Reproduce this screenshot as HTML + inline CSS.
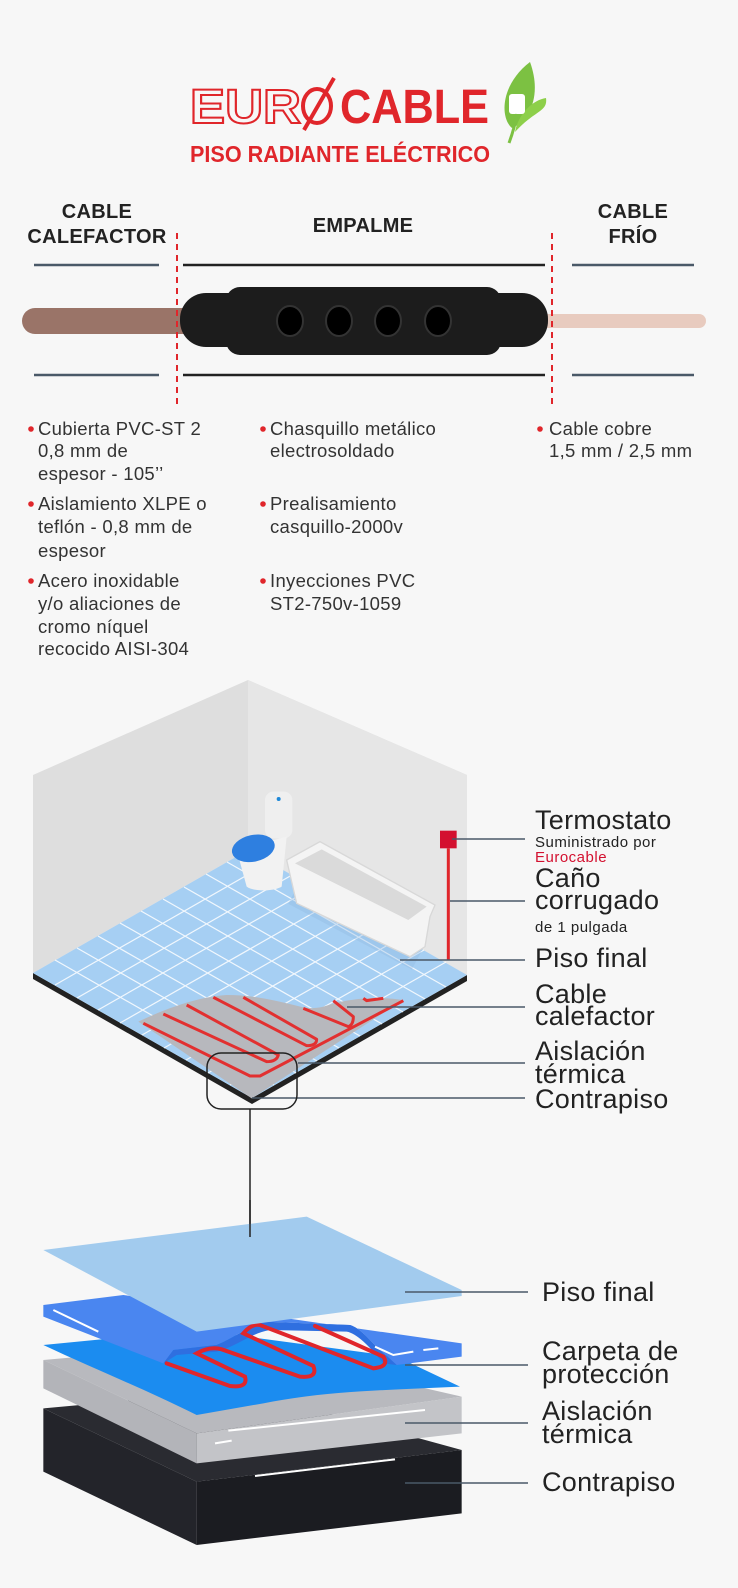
<!DOCTYPE html>
<html><head><meta charset="utf-8"><style>
html,body{margin:0;padding:0;background:#f7f7f7;}
svg{display:block}
text{font-family:"Liberation Sans","DejaVu Sans",sans-serif;}
.b{font-size:18.5px;fill:#333;letter-spacing:0.3px}
.l{font-size:27px;fill:#222;letter-spacing:0.3px}
.s{font-size:15px;fill:#222;letter-spacing:0.5px}
.h{font-size:20px;font-weight:bold;fill:#222;letter-spacing:0.3px}
</style></head><body>
<svg width="738" height="1588" viewBox="0 0 738 1588" xmlns="http://www.w3.org/2000/svg">
<rect width="738" height="1588" fill="#f7f7f7"/>
<!-- logo -->
<text x="190" y="123" font-size="48" font-weight="bold" fill="none" stroke="#e0262b" stroke-width="2" textLength="111" lengthAdjust="spacingAndGlyphs">EUR</text>
<text x="190" y="123" font-size="48" font-weight="bold" fill="none" stroke="#e0262b" stroke-width="0.8" textLength="111" lengthAdjust="spacingAndGlyphs" opacity="0.7">EUR</text>
<ellipse cx="317" cy="106" rx="14" ry="17" fill="none" stroke="#e0262b" stroke-width="4"/>
<line x1="304" y1="130" x2="334" y2="78" stroke="#e0262b" stroke-width="4"/>
<text x="340" y="123" font-size="48" font-weight="bold" fill="#e0262b" textLength="149" lengthAdjust="spacingAndGlyphs">CABLE</text>
<path d="M530 62 C500 85 500 118 512 128 C530 120 542 95 530 62Z" fill="#7cc142"/>
<path d="M515 132 C535 110 548 112 546 98 C532 100 518 115 515 132Z" fill="#8dcf4a"/>
<rect x="509" y="94" width="16" height="20" rx="3" fill="#fff"/>
<path d="M517 114 C515 125 512 135 509 143" stroke="#7cc142" stroke-width="3" fill="none"/>
<text x="190" y="162" font-size="23" font-weight="bold" fill="#e0262b" textLength="300" lengthAdjust="spacingAndGlyphs">PISO RADIANTE ELÉCTRICO</text>
<!-- headers -->
<text class="h" x="97" y="218" text-anchor="middle">CABLE</text>
<text class="h" x="97" y="243" text-anchor="middle">CALEFACTOR</text>
<text class="h" x="363" y="232" text-anchor="middle">EMPALME</text>
<text class="h" x="633" y="218" text-anchor="middle">CABLE</text>
<text class="h" x="633" y="243" text-anchor="middle">FRÍO</text>
<g stroke-width="2.5">
<line x1="34" y1="265" x2="159" y2="265" stroke="#4a5968"/>
<line x1="34" y1="375" x2="159" y2="375" stroke="#4a5968"/>
<line x1="183" y1="265" x2="545" y2="265" stroke="#222"/>
<line x1="183" y1="375" x2="545" y2="375" stroke="#222"/>
<line x1="572" y1="265" x2="694" y2="265" stroke="#4a5968"/>
<line x1="572" y1="375" x2="694" y2="375" stroke="#4a5968"/>
</g>
<line x1="35" y1="321" x2="190" y2="321" stroke="#9a7468" stroke-width="26" stroke-linecap="round"/>
<line x1="545" y1="321" x2="699" y2="321" stroke="#e8cbbf" stroke-width="14" stroke-linecap="round"/>
<rect x="180" y="293" width="368" height="54" rx="26" fill="#1c1c1c"/>
<rect x="226" y="287" width="275" height="68" rx="14" fill="#1c1c1c"/>
<g fill="#000" stroke="#333" stroke-width="2">
<ellipse cx="290" cy="321" rx="13" ry="15"/><ellipse cx="339" cy="321" rx="13" ry="15"/>
<ellipse cx="388" cy="321" rx="13" ry="15"/><ellipse cx="438" cy="321" rx="13" ry="15"/></g>
<g stroke="#e0262b" stroke-width="2" stroke-dasharray="6,5">
<line x1="177" y1="233" x2="177" y2="405"/><line x1="552" y1="233" x2="552" y2="405"/></g>
<!-- bullets -->
<g fill="#e0262b"><circle cx="31" cy="429" r="2.8"/><circle cx="31" cy="504" r="2.8"/><circle cx="31" cy="581" r="2.8"/>
<circle cx="263" cy="429" r="2.8"/><circle cx="263" cy="504" r="2.8"/><circle cx="263" cy="581" r="2.8"/><circle cx="540" cy="429" r="2.8"/></g>
<text class="b"><tspan x="38" y="435">Cubierta PVC-ST 2</tspan><tspan x="38" y="457">0,8 mm de</tspan><tspan x="38" y="480">espesor - 105’’</tspan>
<tspan x="38" y="510">Aislamiento XLPE o</tspan><tspan x="38" y="533">teflón - 0,8 mm de</tspan><tspan x="38" y="557">espesor</tspan>
<tspan x="38" y="587">Acero inoxidable</tspan><tspan x="38" y="610">y/o aliaciones de</tspan><tspan x="38" y="633">cromo níquel</tspan><tspan x="38" y="655">recocido AISI-304</tspan></text>
<text class="b"><tspan x="270" y="435">Chasquillo metálico</tspan><tspan x="270" y="457">electrosoldado</tspan>
<tspan x="270" y="510">Prealisamiento</tspan><tspan x="270" y="533">casquillo-2000v</tspan>
<tspan x="270" y="587">Inyecciones PVC</tspan><tspan x="270" y="610">ST2-750v-1059</tspan></text>
<text class="b"><tspan x="549" y="435">Cable cobre</tspan><tspan x="549" y="457">1,5 mm / 2,5 mm</tspan></text>
<!-- bathroom -->
<polygon points="33,775 248,680 467,775 467,975 248,850 33,973" fill="#dedede"/>
<polygon points="248,680 467,775 467,975 248,850" fill="#e6e6e6"/>
<polygon points="33,973 33,979 252,1104 467,981 467,975 252,1098" fill="#222"/>
<polygon points="33,973 248,850 467,975 252,1098" fill="#a6cff3"/>
<g stroke="#fff" stroke-width="1.2" opacity="0.85">
<path d="M55 960 L274 1085 M77 948 L296 1073 M98 936 L317 1061 M120 923 L339 1048 M141 911 L360 1036 M163 899 L382 1024 M184 887 L403 1012 M206 874 L425 999 M227 862 L446 987"/>
<path d="M55 985 L270 862 M77 998 L292 875 M98 1010 L314 887 M120 1023 L336 900 M142 1035 L358 912 M164 1048 L380 925 M186 1060 L402 937 M208 1073 L424 950 M230 1085 L446 962"/>
</g>
<g transform="translate(20,760) scale(0.33333)">
<path d="M355 785 C450 740 540 710 620 705 C700 705 760 720 850 742 C900 750 920 735 950 728 C1030 710 1100 712 1150 720 L695 1015 Z" fill="#b7b8bd"/>
<g fill="none" stroke="#e23030" stroke-width="9" stroke-linejoin="round">
<path d="M370 790 L690 948 L720 948 L1150 722"/>
<path d="M430 762 L740 905 Q770 905 775 885 L500 735"/>
<path d="M580 712 L860 857 Q890 857 890 838 L670 712"/>
<path d="M850 745 L985 800 Q1000 795 1000 770 L940 722"/>
<path d="M1030 715 L1040 722 L1090 715"/>
</g>
<rect x="800" y="440" width="420" height="90" fill="#8fb8df" opacity="0.35" transform="rotate(28 1000 490)"/>
<rect x="735" y="95" width="82" height="140" rx="25" fill="#efefef"/>
<circle cx="776" cy="117" r="6" fill="#1e88d8"/>
<path d="M650 270 L800 230 L785 380 C760 395 700 395 680 380Z" fill="#f2f2f2"/>
<ellipse cx="700" cy="265" rx="65" ry="40" fill="#2e7fe0" transform="rotate(-12 700 265)"/>
<path d="M800 300 L900 245 L1245 435 L1230 470 L1215 560 L1170 590 L830 430 Z" fill="#f4f4f4" stroke="#d8d8d8" stroke-width="4"/>
<path d="M825 310 L905 268 L1220 440 L1165 480 Z" fill="#dadada"/>
<rect x="1260" y="212" width="50" height="53" fill="#d3102f"/>
<line x1="1285" y1="265" x2="1285" y2="600" stroke="#e0262b" stroke-width="9"/>
</g>
<g stroke="#4a5968" stroke-width="1.5">
<line x1="452" y1="839" x2="525" y2="839"/><line x1="450" y1="901" x2="525" y2="901"/>
<line x1="400" y1="960" x2="525" y2="960"/><line x1="347" y1="1007" x2="525" y2="1007"/>
<line x1="298" y1="1063" x2="525" y2="1063"/><line x1="252" y1="1098" x2="525" y2="1098"/></g>
<rect x="207" y="1053" width="90" height="56" rx="14" fill="none" stroke="#222" stroke-width="1.5"/>
<line x1="250" y1="1109" x2="250" y2="1237" stroke="#222" stroke-width="1.5"/>
<text class="l" x="535" y="829">Termostato</text>
<text class="s" x="535" y="847">Suministrado por</text>
<text class="s" x="535" y="862" style="fill:#d3102f">Eurocable</text>
<text class="l"><tspan x="535" y="887">Caño</tspan><tspan x="535" y="909">corrugado</tspan></text>
<text class="s" x="535" y="932">de 1 pulgada</text>
<text class="l" x="535" y="967">Piso final</text>
<text class="l"><tspan x="535" y="1003">Cable</tspan><tspan x="535" y="1025">calefactor</tspan></text>
<text class="l"><tspan x="535" y="1060">Aislación</tspan><tspan x="535" y="1083">térmica</tspan></text>
<text class="l" x="535" y="1108">Contrapiso</text>
<!-- layers -->
<g transform="translate(30,1190) scale(0.33333)">
<polygon points="40,655 640,600 1295,780 500,875" fill="#2a2b31"/>
<polygon points="40,655 500,875 500,1065 40,845" fill="#23242a"/>
<polygon points="500,875 1295,780 1295,970 500,1065" fill="#1b1c21"/>
<line x1="675" y1="858" x2="1095" y2="808" stroke="#fff" stroke-width="6"/>
<polygon points="40,510 600,460 1295,620 500,730" fill="#b8b9be"/>
<polygon points="40,510 500,730 500,820 40,595" fill="#b3b4b9"/>
<polygon points="500,730 1295,620 1295,730 500,820" fill="#c3c4c8"/>
<line x1="595" y1="722" x2="1185" y2="660" stroke="#fff" stroke-width="6"/>
<line x1="555" y1="760" x2="605" y2="752" stroke="#fff" stroke-width="6"/>
<path d="M40 465 L500 420 L1100 500 L1290 590 C1100 600 900 600 700 640 L500 675 C350 600 200 540 40 465Z" fill="#1b8cf0"/>
<path d="M40 345 L280 315 L1295 460 L1295 500 L1100 525 L1040 470 C1010 440 990 415 960 405 L700 395 C660 405 620 440 560 465 L430 480 L400 520 L40 380Z" fill="#4a86f0"/>
<path d="M400 520 L430 480 L560 465 C620 440 660 405 700 395 L960 405 C990 415 1010 440 1040 470 L1100 525 L1060 520 C1020 470 980 430 950 425 L720 420 C660 430 620 470 560 485 L440 495Z" fill="#2f6fe0"/>
<line x1="70" y1="360" x2="205" y2="425" stroke="#fff" stroke-width="6"/>
<path d="M1035 470 L1090 495 L1150 485 M1180 480 L1225 475" stroke="#fff" stroke-width="6" fill="none"/>
<g fill="none" stroke="#e0262b" stroke-width="12" stroke-linecap="round">
<path d="M410 520 L600 588 Q655 595 645 560 L500 490 Q540 468 575 478 L810 560 Q865 565 850 528 L640 430 Q665 400 690 405 L1030 535 Q1080 530 1060 500 L855 408"/>
</g>
<polygon points="40,180 830,80 1295,300 1295,318 500,425" fill="#a2cbee"/>
</g>
<line x1="250" y1="1200" x2="250" y2="1237" stroke="#222" stroke-width="1.5"/>
<g stroke="#4a5968" stroke-width="1.5">
<line x1="405" y1="1292" x2="528" y2="1292"/><line x1="405" y1="1365" x2="528" y2="1365"/>
<line x1="405" y1="1423" x2="528" y2="1423"/><line x1="405" y1="1483" x2="528" y2="1483"/></g>
<text class="l" x="542" y="1301">Piso final</text>
<text class="l"><tspan x="542" y="1360">Carpeta de</tspan><tspan x="542" y="1383">protección</tspan></text>
<text class="l"><tspan x="542" y="1420">Aislación</tspan><tspan x="542" y="1443">térmica</tspan></text>
<text class="l" x="542" y="1491">Contrapiso</text>
</svg>
</body></html>
